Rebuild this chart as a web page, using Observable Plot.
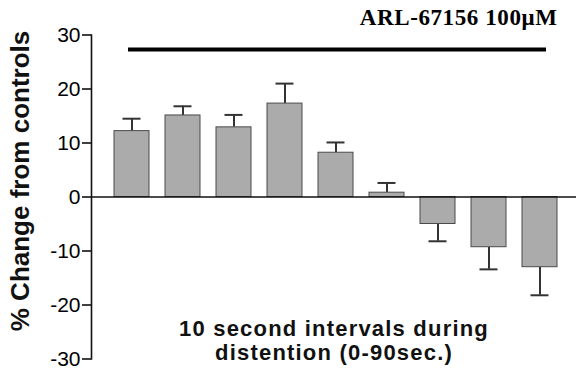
<!DOCTYPE html>
<html>
<head>
<meta charset="utf-8">
<script src="https://cdn.jsdelivr.net/npm/d3@7"></script>
<script src="https://cdn.jsdelivr.net/npm/@observablehq/plot@0.6"></script>
<style>
  html, body { margin: 0; padding: 0; background: #fff; }
  #chart { width: 576px; height: 376px; }
  g[aria-description="xtitle"] text { letter-spacing: 1.2px; }
  g[aria-description="drug"] text { letter-spacing: 0.6px; }
</style>
</head>
<body>
<div id="chart"></div>
<script>
// Data
const intervals = ["1", "2", "3", "4", "5", "6", "7", "8", "9"];
const meanChange = [12.2, 15.1, 12.9, 17.3, 8.2, 0.8, -5.0, -9.3, -13.0];
const semChange = [2.3, 1.7, 2.3, 3.7, 1.9, 1.8, 3.2, 4.1, 5.2];
const yTicks = [-30, -20, -10, 0, 10, 20, 30];
const drugLabel = "ARL-67156 100\u03bcM";
const drugPeriod = {from: "1", to: "9"};
const drugLevel = 27.3;
const yLabel = "% Change from controls";
const xTitle = "10 second intervals during\ndistention (0-90sec.)";

const rows = intervals.map((k, i) => ({
  k, mean: meanChange[i], sem: semChange[i],
  err: meanChange[i] + Math.sign(meanChange[i]) * semChange[i]
}));

const sans = "'Liberation Sans', Arial, Helvetica, sans-serif";

const chart = Plot.plot({
  width: 576,
  height: 376,
  marginLeft: 91,
  marginRight: 0,
  marginTop: 34.5,
  marginBottom: 17.5,
  style: {fontFamily: sans, background: "#fff", color: "#000"},
  x: {domain: intervals, range: [111, 561], paddingInner: 0.31, paddingOuter: 0, axis: null},
  y: {domain: [-30, 30], ticks: yTicks, axis: null},
  marks: [
    Plot.frame({anchor: "left", stroke: "#111", strokeWidth: 1.6}),
    Plot.axisY({ticks: yTicks, tickSize: 9, tickPadding: 2, fontSize: 21, label: null, stroke: "#111", strokeWidth: 1.6, tickFormat: d => d < 0 ? "-" + Math.abs(d) : String(d)}),
    Plot.ruleX(rows, {x: "k", y1: "mean", y2: "err", stroke: "#333", strokeWidth: 2}),
    Plot.tickY(rows, {x: "k", y: "err", stroke: "#333", strokeWidth: 2, insetLeft: 8.5, insetRight: 8.5}),
    Plot.barY(rows, {x: "k", y: "mean", fill: "#ababab", stroke: "#4a4a4a", strokeWidth: 1}),
    Plot.ruleY([0], {stroke: "#111", strokeWidth: 1.6}),
    Plot.ruleY([drugLevel], {x1: () => drugPeriod.from, x2: () => drugPeriod.to, insetLeft: 14, insetRight: 11, stroke: "#000", strokeWidth: 4}),
    Plot.text([drugLabel], {frameAnchor: "top-right", textAnchor: "end", lineAnchor: "bottom", dx: -19, dy: -10, fontSize: 23, fontWeight: "bold", fontFamily: "'Liberation Serif', 'Times New Roman', serif", fill: "#000", ariaDescription: "drug"}),
    Plot.text([yLabel], {frameAnchor: "left", rotate: -90, lineAnchor: "middle", textAnchor: "middle", dx: -71, dy: -16, fontSize: 26, fontWeight: "bold", fill: "#111"}),
    Plot.text([xTitle], {frameAnchor: "bottom", textAnchor: "middle", lineAnchor: "bottom", lineHeight: 1.1, dy: 1, fontSize: 22, fontWeight: "bold", fill: "#111", ariaDescription: "xtitle"})
  ]
});
document.getElementById("chart").appendChild(chart);
</script>
</body>
</html>
